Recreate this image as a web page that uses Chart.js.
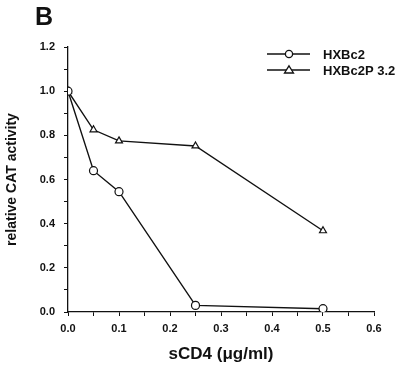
<!DOCTYPE html>
<html>
<head>
<meta charset="utf-8">
<script src="https://cdn.jsdelivr.net/npm/chart.js@4"></script>
<style>
  body { margin: 0; background: #fff; }
  #wrap { width: 400px; height: 369px; }
</style>
</head>
<body>
<div id="wrap"><canvas id="cat-chart"></canvas></div>
<script>
// sCD4 doses (ug/ml) and relative CAT activity for each virus
const doses = [0, 0.05, 0.1, 0.25, 0.5];
const hxbc2 = [1.0, 0.64, 0.545, 0.03, 0.015];
const hxbc2p32 = [1.0, 0.825, 0.775, 0.752, 0.368];
const seriesNames = ["HXBc2", "HXBc2P 3.2"];

const ink = "#111";
const labelFont = "bold 11px 'Liberation Sans', Arial, sans-serif";

function pts(ys) {
    return doses.map((d, i) => ({ x: d, y: ys[i] }));
}

// the panel letter + the little legend box top right
const extras = {
    id: "extras",
    afterDraw(chart) {
        const ctx = chart.ctx;
        ctx.save();
        ctx.fillStyle = ink;
        ctx.font = "bold 25px 'Liberation Sans', Arial, sans-serif";
        ctx.textBaseline = "alphabetic";
        ctx.fillText("B", 35, 25);

        const rows = [
            { y: 54, style: "circle" },
            { y: 70, style: "triangle" }
        ];
        rows.forEach((r, i) => {
            ctx.strokeStyle = ink;
            ctx.lineWidth = 1.3;
            ctx.beginPath();
            ctx.moveTo(267, r.y);
            ctx.lineTo(310, r.y);
            ctx.stroke();
            ctx.fillStyle = "#fff";
            ctx.beginPath();
            if (r.style === "circle") {
                ctx.arc(289, r.y, 3.6, 0, Math.PI * 2);
            } else {
                ctx.moveTo(289, r.y - 4.2);
                ctx.lineTo(293.5, r.y + 3);
                ctx.lineTo(284.5, r.y + 3);
                ctx.closePath();
            }
            ctx.fill();
            ctx.stroke();
            ctx.fillStyle = ink;
            ctx.font = "bold 13px 'Liberation Sans', Arial, sans-serif";
            ctx.textBaseline = "middle";
            ctx.fillText(seriesNames[i], 323, r.y + 1);
        });
        ctx.restore();
    }
};

const lineStyle = {
    borderColor: ink,
    borderWidth: 1.4,
    pointBackgroundColor: "#fff",
    pointBorderColor: ink,
    pointBorderWidth: 1.2,
    pointRadius: 4,
    tension: 0,
    fill: false
};

new Chart(document.getElementById("cat-chart"), {
    type: "line",
    data: {
        datasets: [
            { label: seriesNames[0], data: pts(hxbc2), pointStyle: "circle", ...lineStyle },
            { label: seriesNames[1], data: pts(hxbc2p32), pointStyle: "triangle", pointRadius: 4.5, ...lineStyle }
        ]
    },
    options: {
        responsive: true,
        maintainAspectRatio: false,
        animation: false,
        layout: { padding: { top: 47, right: 26, bottom: 0, left: 0 } },
        plugins: {
            legend: { display: false },
            tooltip: { enabled: false }
        },
        scales: {
            x: {
                type: "linear",
                min: 0,
                max: 0.6,
                afterFit(s) { s.height = 57; },
                border: { color: ink, width: 1.3 },
                grid: { drawOnChartArea: false, drawTicks: true, tickLength: 4, color: ink, tickWidth: 1 },
                ticks: {
                    stepSize: 0.05,
                    autoSkip: false,
                    maxRotation: 0,
                    padding: 6,
                    color: ink,
                    font: { family: "'Liberation Sans', Arial, sans-serif", size: 11, weight: "bold" },
                    callback: (v, i) => (i % 2 ? "" : v.toFixed(1))
                },
                title: {
                    display: true,
                    text: "sCD4 (\u03bcg/ml)",
                    color: ink,
                    font: { family: "'Liberation Sans', Arial, sans-serif", size: 17, weight: "bold" },
                    padding: { top: 0, bottom: 4 }
                }
            },
            y: {
                min: 0,
                max: 1.2,
                afterFit(s) { s.width = 68; },
                border: { color: ink, width: 1.3 },
                grid: { drawOnChartArea: false, drawTicks: true, tickLength: 4, color: ink, tickWidth: 1 },
                ticks: {
                    stepSize: 0.1,
                    autoSkip: false,
                    padding: 9,
                    color: ink,
                    font: { family: "'Liberation Sans', Arial, sans-serif", size: 11, weight: "bold" },
                    callback: (v, i) => (i % 2 ? "" : v.toFixed(1))
                },
                title: {
                    display: true,
                    text: "relative CAT activity",
                    color: ink,
                    font: { family: "'Liberation Sans', Arial, sans-serif", size: 14, weight: "bold" },
                    padding: { top: 4, bottom: 0 }
                }
            }
        }
    },
    plugins: [extras]
});
</script>
</body>
</html>
